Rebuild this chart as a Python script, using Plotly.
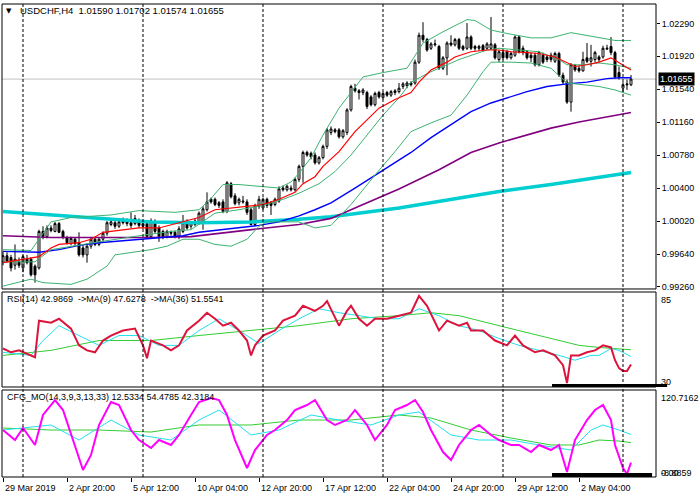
import plotly.graph_objects as go

# ---------------- price data (USDCHF H4), bar index 0 = 29 Mar 2019 ----------------
bar_open = [0.9955,0.9962,0.9960,0.9951,0.9955,0.9948,0.9958,0.9958,0.9950,0.9948,
0.9990,0.9984,0.9994,0.9990,0.9999,0.9990,0.9983,0.9976,0.9981,0.9977,
0.9971,0.9963,0.9973,0.9981,0.9975,0.9981,0.9988,0.9998,1.0000,0.9996,
1.0002,1.0001,1.0000,0.9999,1.0002,0.9999,0.9999,0.9984,1.0001,0.9994,
0.9990,0.9984,0.9989,0.9989,0.9984,0.9990,1.0001,0.9996,0.9998,1.0000,
1.0001,1.0015,1.0027,1.0027,1.0023,1.0024,1.0013,1.0045,1.0031,1.0023,
1.0025,1.0024,1.0015,0.9998,1.0019,1.0017,1.0027,1.0023,1.0021,1.0025,
1.0040,1.0038,1.0040,1.0038,1.0050,1.0065,1.0081,1.0080,1.0078,1.0069,
1.0075,1.0088,1.0104,1.0107,1.0107,1.0099,1.0104,1.0130,1.0155,1.0152,
1.0150,1.0150,1.0145,1.0136,1.0150,1.0144,1.0150,1.0147,1.0150,1.0151,
1.0157,1.0158,1.0161,1.0161,1.0185,1.0216,1.0211,1.0201,1.0205,1.0203,
1.0178,1.0190,1.0207,1.0205,1.0211,1.0203,1.0201,1.0214,1.0203,1.0201,
1.0204,1.0201,1.0201,1.0205,1.0188,1.0196,1.0197,1.0190,1.0193,1.0214,
1.0201,1.0197,1.0193,1.0193,1.0182,1.0193,1.0191,1.0193,1.0186,1.0195,
1.0170,1.0162,1.0139,1.0181,1.0178,1.0175,1.0190,1.0186,1.0188,1.0191,
1.0191,1.0200,1.0203,1.0196,1.0173,1.0155,1.0160,1.01590]
bar_high = [0.9967,0.9966,0.9963,0.9975,0.9960,0.9963,0.9963,0.9960,0.9952,0.9992,
0.9996,0.9997,0.9997,1.0001,1.0001,0.9992,0.9985,0.9984,0.9983,0.9989,
0.9974,0.9975,0.9983,0.9983,0.9983,0.9990,1.0002,1.0005,1.0004,1.0005,
1.0006,1.0005,1.0012,1.0009,1.0005,1.0001,1.0001,1.0005,1.0004,0.9997,
0.9992,0.9992,0.9991,0.9991,0.9996,1.0009,1.0004,1.0002,1.0005,1.0013,
1.0019,1.0035,1.0029,1.0029,1.0025,1.0027,1.0048,1.0047,1.0034,1.0029,
1.0031,1.0027,1.0017,1.0022,1.0031,1.0029,1.0029,1.0025,1.0029,1.0042,
1.0043,1.0044,1.0043,1.0052,1.0067,1.0083,1.0083,1.0082,1.0081,1.0077,
1.0090,1.0109,1.0111,1.0109,1.0109,1.0108,1.0132,1.0159,1.0160,1.0154,
1.0155,1.0152,1.0147,1.0151,1.0152,1.0151,1.0152,1.0153,1.0154,1.0161,
1.0162,1.0163,1.0163,1.0188,1.0219,1.0231,1.0213,1.0208,1.0211,1.0205,
1.0192,1.0209,1.0216,1.0213,1.0213,1.0205,1.0230,1.0216,1.0205,1.0205,
1.0206,1.0208,1.0237,1.0207,1.0199,1.0198,1.0199,1.0197,1.0216,1.0216,
1.0204,1.0199,1.0196,1.0196,1.0198,1.0196,1.0193,1.0196,1.0197,1.0197,
1.0173,1.0165,1.0184,1.0183,1.0181,1.0197,1.0207,1.0205,1.0198,1.0193,
1.0204,1.0205,1.0214,1.0198,1.0180,1.0162,1.0165,1.01702]
bar_low = [0.9951,0.9954,0.9944,0.9946,0.9948,0.9943,0.9952,0.9938,0.9931,0.9946,
0.9981,0.9982,0.9989,0.9989,0.9988,0.9981,0.9975,0.9974,0.9974,0.9961,
0.9960,0.9954,0.9970,0.9973,0.9973,0.9978,0.9985,0.9996,0.9993,0.9994,
0.9998,0.9996,0.9994,0.9997,0.9994,0.9993,0.9982,0.9982,0.9988,0.9978,
0.9981,0.9982,0.9985,0.9982,0.9981,0.9988,0.9992,0.9993,0.9996,0.9998,
0.9992,1.0013,1.0022,1.0019,1.0017,1.0011,1.0011,1.0028,1.0020,1.0020,
1.0022,1.0009,0.9997,0.9996,1.0016,1.0015,1.0017,1.0009,1.0019,1.0023,
1.0036,1.0036,1.0036,1.0036,1.0047,1.0046,1.0076,1.0073,1.0067,1.0067,
1.0073,1.0085,1.0101,1.0103,1.0097,1.0097,1.0101,1.0128,1.0150,1.0142,
1.0147,1.0131,1.0134,1.0134,1.0143,1.0142,1.0145,1.0145,1.0147,1.0149,
1.0154,1.0155,1.0157,1.0159,1.0183,1.0208,1.0197,1.0199,1.0203,1.0176,
1.0176,1.0170,1.0203,1.0203,1.0199,1.0198,1.0199,1.0199,1.0198,1.0198,
1.0197,1.0199,1.0199,1.0188,1.0185,1.0188,1.0188,1.0188,1.0191,1.0195,
1.0193,1.0188,1.0185,1.0180,1.0180,1.0183,1.0185,1.0185,1.0184,1.0168,
1.0160,1.0137,1.0128,1.0174,1.0173,1.0174,1.0184,1.0180,1.0185,1.0185,
1.0189,1.0199,1.0193,1.0166,1.0165,1.0150,1.0153,1.01574]
bar_close = [0.9962,0.9956,0.9948,0.9958,0.9951,0.9961,0.9954,0.9940,0.9940,0.9990,
0.9984,0.9994,0.9991,0.9999,0.9989,0.9983,0.9977,0.9982,0.9976,0.9963,
0.9963,0.9973,0.9981,0.9975,0.9981,0.9988,1.0000,1.0001,0.9996,1.0001,
1.0000,0.9999,0.9997,1.0005,0.9997,0.9996,0.9984,1.0002,0.9990,0.9984,
0.9983,0.9990,0.9988,0.9984,0.9993,1.0000,0.9994,1.0000,1.0002,1.0011,
1.0016,1.0024,1.0024,1.0021,1.0020,1.0013,1.0046,1.0030,1.0022,1.0027,
1.0024,1.0012,0.9998,1.0020,1.0027,1.0027,1.0020,1.0020,1.0027,1.0039,
1.0038,1.0042,1.0038,1.0050,1.0065,1.0081,1.0078,1.0076,1.0069,1.0075,
1.0088,1.0107,1.0108,1.0105,1.0099,1.0106,1.0130,1.0157,1.0152,1.0150,
1.0153,1.0134,1.0136,1.0149,1.0145,1.0149,1.0147,1.0151,1.0152,1.0155,
1.0160,1.0161,1.0159,1.0185,1.0216,1.0211,1.0199,1.0206,1.0206,1.0178,
1.0190,1.0207,1.0205,1.0211,1.0201,1.0200,1.0214,1.0201,1.0201,1.0203,
1.0199,1.0206,1.0206,1.0190,1.0197,1.0190,1.0190,1.0195,1.0214,1.0197,
1.0196,1.0190,1.0190,1.0182,1.0196,1.0185,1.0188,1.0188,1.0195,1.0170,
1.0162,1.0139,1.0182,1.0176,1.0175,1.0188,1.0186,1.0190,1.0196,1.0188,
1.0201,1.0201,1.0196,1.0168,1.0167,1.0159,1.0159,1.01655]

# ---------------- main-chart indicators (bar index, value) ----------------
ma_red_idx = [0,9,12,14,19,22,25,30,34,39,45,49,53,57,60,65,69,73,75,78,80,84,88,91,94,98,102,104,107,111,113,117,121,124,127,131,134,138,141,143,146,149,152,154,157]
ma_red = [0.9954,0.9961,0.9971,0.9975,0.9977,0.9981,0.9989,0.9992,0.9994,0.9994,1.0001,1.0006,1.0015,1.0017,1.0019,1.0021,1.0027,1.0035,1.0045,1.0053,1.0065,1.0082,1.0105,1.0119,1.0132,1.0142,1.0150,1.0162,1.0176,1.0185,1.0191,1.0197,1.0199,1.0199,1.0197,1.0196,1.0195,1.0191,1.0184,1.0180,1.0182,1.0185,1.0190,1.0184,1.0176]

ma_blue_idx = [0,9,14,19,24,32,39,45,49,57,64,69,74,78,82,88,94,102,107,112,117,122,127,131,136,141,146,151,154,157]
ma_blue = [0.9967,0.9966,0.9969,0.9974,0.9977,0.9980,0.9982,0.9985,0.9989,0.9993,0.9997,1.0001,1.0008,1.0015,1.0023,1.0040,1.0058,1.0081,1.0098,1.0113,1.0128,1.0138,1.0145,1.0151,1.0157,1.0160,1.0162,1.0166,1.0167,1.0167]

ma_purple_idx = [0,12,24,37,47,54,64,74,82,89,99,109,117,124,131,137,144,151,157]
ma_purple = [0.9985,0.9983,0.9983,0.9983,0.9984,0.9988,0.9993,0.9998,1.0005,1.0019,1.0039,1.0061,1.0081,1.0092,1.0101,1.0109,1.0116,1.0122,1.0127]

ma_cyan_idx = [0,12,24,37,49,62,74,82,99,112,124,137,149,157]
ma_cyan = [1.0013,1.0009,1.0006,1.0001,1.0000,1.0001,1.0004,1.0007,1.0017,1.0027,1.0036,1.0044,1.0052,1.0058]

bb_up_idx = [0,7,9,12,17,27,34,43,49,52,55,59,64,69,72,74,77,80,84,90,95,101,105,110,116,118,122,126,132,137,142,146,149,153,157]
bb_up = [0.9969,0.9968,0.9981,1.0001,1.0006,1.0009,1.0014,1.0012,1.0015,1.0028,1.0044,1.0044,1.0042,1.0040,1.0047,1.0057,1.0075,1.0101,1.0132,1.0168,1.0173,1.0178,1.0207,1.0220,1.0234,1.0233,1.0222,1.0218,1.0213,1.0213,1.0219,1.0216,1.0213,1.0210,1.0210]

bb_mid_idx = [0,8,12,17,24,34,42,47,50,53,59,65,70,74,79,83,87,91,95,99,102,107,114,121,124,129,134,139,141,145,149,153,157]
bb_mid = [0.9955,0.9955,0.9969,0.9973,0.9978,0.9985,0.9990,0.9992,1.0001,1.0011,1.0015,1.0020,1.0027,1.0034,1.0045,1.0059,1.0078,1.0101,1.0124,1.0144,1.0162,1.0174,1.0188,1.0199,1.0201,1.0199,1.0197,1.0188,1.0182,1.0182,1.0184,1.0182,1.0178]

bb_low_idx = [0,7,10,17,21,26,28,32,37,41,45,49,53,57,61,64,66,74,78,82,87,93,98,102,107,112,116,120,122,127,132,137,141,145,149,153,157]
bb_low = [0.9927,0.9935,0.9931,0.9929,0.9935,0.9950,0.9963,0.9966,0.9969,0.9973,0.9981,0.9981,0.9975,0.9973,0.9981,0.9996,1.0001,1.0001,0.9994,0.9997,1.0021,1.0055,1.0082,1.0105,1.0115,1.0124,1.0147,1.0174,1.0185,1.0185,1.0184,1.0178,1.0161,1.0159,1.0157,1.0153,1.0147]

# ---------------- RSI(14) panel ----------------
rsi_idx = [0,2,4,7,8,9,12,14,17,19,21,23,25,27,30,33,35,36,37,40,42,44,46,49,51,53,55,57,59,61,62,63,65,68,70,73,75,78,80,81,84,86,87,89,91,93,96,99,102,104,105,106,109,111,114,116,117,120,123,126,128,130,133,135,138,139,140,141,142,144,146,148,150,152,153,154,155,156,157]
rsi = [52.3,50.1,51.2,48.3,47.2,68.4,67.2,69.5,63.8,54.1,51.2,50.1,56.9,59.8,62.7,63.8,54.1,46.6,56.9,54.1,51.2,54.1,62.7,68.4,73.0,69.5,65.5,67.2,62.7,56.9,48.3,54.1,59.8,62.7,68.4,71.3,77.0,74.1,77.0,79.8,65.5,74.1,77.0,69.5,65.5,69.5,69.5,71.3,73.0,82.7,79.8,77.0,62.7,68.4,65.5,67.2,62.7,62.7,56.9,54.1,59.8,54.1,50.1,51.2,48.3,45.5,42.6,32.3,48.3,48.3,50.1,51.2,54.1,52.9,45.5,40.9,39.2,39.2,42.99]
rsi_ma9_idx = [0,7,10,14,19,24,29,34,39,44,49,54,59,64,69,74,79,84,89,94,99,104,109,114,119,124,129,134,139,143,147,149,152,154,157]
rsi_ma9 = [50.1,48.3,56.9,65.5,59.8,54.1,59.8,59.8,54.1,54.1,62.7,69.5,62.7,55.2,62.7,69.5,75.3,73.0,71.3,69.5,69.5,75.3,71.3,65.5,62.7,58.1,54.1,51.2,48.3,45.5,48.3,48.3,52.3,51.2,47.63]
rsi_ma36_idx = [0,12,24,37,49,62,74,87,99,107,114,124,134,144,149,154,157]
rsi_ma36 = [48.3,51.2,56.9,56.9,59.8,62.7,65.5,69.5,71.3,73.0,71.3,65.5,59.8,54.1,52.9,52.3,51.55]

# ---------------- CFG_MO panel ----------------
cfg_idx = [0,3,5,8,10,13,15,18,20,22,24,27,29,32,34,37,39,42,44,47,49,52,54,56,58,61,63,66,68,71,73,76,78,81,83,86,88,91,93,96,98,101,103,105,107,110,112,114,117,119,122,124,127,129,132,134,137,139,141,143,146,148,150,152,153,155,156,157]
cfg_main = [61.1,46.2,64.1,38.8,83.5,105.8,90.9,38.8,1.5,23.9,68.6,102.8,98.4,61.1,46.2,34.3,46.2,38.8,53.7,83.5,102.8,108.8,105.8,83.5,46.2,4.5,31.3,53.7,61.1,76.0,90.9,98.4,105.8,76.0,68.6,76.0,90.9,68.6,46.2,68.6,90.9,98.4,105.8,88.0,61.1,28.3,16.4,38.8,61.1,68.6,53.7,46.2,38.8,38.8,28.3,38.8,31.3,38.8,-1.4,46.2,76.0,90.9,98.4,76.0,38.8,4.5,-4.4,12.53]
cfg_sig1_idx = [0,12,19,27,34,42,49,54,62,69,77,84,92,99,104,112,119,127,134,142,147,150,154,157]
cfg_sig1 = [61.1,68.6,46.2,76.0,53.7,46.2,76.0,90.9,53.7,61.1,83.5,76.0,68.6,83.5,88.0,53.7,46.2,46.2,38.8,31.3,61.1,68.6,61.1,54.48]
cfg_sig2_idx = [0,12,24,37,49,62,74,87,99,107,117,127,137,144,149,154,157]
cfg_sig2 = [64.1,61.1,61.1,58.1,68.6,68.6,76.0,76.0,83.5,79.0,61.1,49.2,38.8,38.8,46.2,44.7,42.32]

# ---------------- axis labels ----------------
time_tick_idx = [0,16,32,48,64,80,96,112,128,144]
time_tick_txt = ["29 Mar 2019","2 Apr 20:00","5 Apr 12:00","10 Apr 04:00","12 Apr 20:00",
                 "17 Apr 12:00","22 Apr 04:00","24 Apr 20:00","29 Apr 12:00","2 May 04:00"]
price_ticks = [0.99260,0.99640,1.00020,1.00400,1.00780,1.01160,1.01540,1.01920,1.02290]
grid_idx = [5,35,65,95,125,155]
last_price = 1.01655

FONT = "Liberation Sans"
FS = 9
fig = go.Figure()

def add_line(xs, ys, color, width, yaxis="y"):
    fig.add_trace(go.Scatter(x=xs, y=ys, mode="lines", yaxis=yaxis,
                             line=dict(color=color, width=width),
                             hoverinfo="skip", showlegend=False))

# main indicators (drawn under the candles)
add_line(ma_cyan_idx, ma_cyan, "#00CED1", 3.5)
add_line(ma_purple_idx, ma_purple, "#800080", 1.6)
add_line(ma_blue_idx, ma_blue, "#0000FF", 1.4)
add_line(bb_up_idx, bb_up, "#3CB371", 1)
add_line(bb_mid_idx, bb_mid, "#3CB371", 1)
add_line(bb_low_idx, bb_low, "#3CB371", 1)
add_line(ma_red_idx, ma_red, "#FF0000", 1.2)

fig.add_trace(go.Candlestick(
    x=list(range(len(bar_close))), open=bar_open, high=bar_high, low=bar_low, close=bar_close,
    increasing=dict(line=dict(color="black", width=1), fillcolor="white"),
    decreasing=dict(line=dict(color="black", width=1), fillcolor="black"),
    whiskerwidth=0, showlegend=False, hoverinfo="skip", yaxis="y"))

# RSI panel
add_line(rsi_ma36_idx, rsi_ma36, "#32CD32", 1, "y2")
add_line(rsi_ma9_idx, rsi_ma9, "#22E0EE", 1, "y2")
add_line(rsi_idx, rsi, "#DC143C", 2, "y2")

# CFG_MO panel
add_line(cfg_sig2_idx, cfg_sig2, "#32CD32", 1, "y3")
add_line(cfg_sig1_idx, cfg_sig1, "#22E0EE", 1, "y3")
add_line(cfg_idx, cfg_main, "#FF00FF", 2, "y3")

main_dom = [0.3975, 1.0]
rsi_dom = [0.1903, 0.3911]
cfg_dom = [0.0, 0.1839]

shapes = []
for g in grid_idx:
    shapes.append(dict(type="line", xref="x", yref="paper", x0=g, x1=g, y0=0, y1=1,
                       line=dict(color="black", width=1, dash="3px,2px"), layer="above"))
shapes.append(dict(type="line", xref="paper", yref="y", x0=0, x1=1, y0=last_price, y1=last_price,
                   line=dict(color="#C0C0C0", width=1), layer="below"))
for d in (main_dom, rsi_dom, cfg_dom):
    shapes.append(dict(type="rect", xref="paper", yref="paper", x0=0, x1=1, y0=d[0], y1=d[1],
                       line=dict(color="black", width=1), fillcolor="rgba(0,0,0,0)", layer="above"))
# thick black segments at bottom of the sub-windows
shapes.append(dict(type="rect", xref="paper", yref="paper", x0=0.841, x1=1.017, y0=0.1903, y1=0.1966,
                   line=dict(width=0), fillcolor="black", layer="above"))
shapes.append(dict(type="rect", xref="paper", yref="paper", x0=0.841, x1=0.994, y0=0.0, y1=0.0085,
                   line=dict(width=0), fillcolor="black", layer="above"))

fnt = dict(family=FONT, size=FS, color="black")
ann = []
for i, t in zip(time_tick_idx, time_tick_txt):
    ann.append(dict(x=i, y=0, xref="x", yref="paper", text=t, showarrow=False,
                    xanchor="left", yanchor="top", yshift=-4, font=fnt))
ann.append(dict(x=0, y=0.9855, xref="paper", yref="paper", text="▼", showarrow=False,
                xanchor="left", yanchor="middle", xshift=2,
                font=dict(family="DejaVu Sans", size=7, color="black")))
ann.append(dict(x=0, y=0.9855, xref="paper", yref="paper",
                text="USDCHF,H4  1.01590 1.01702 1.01574 1.01655", showarrow=False,
                xanchor="left", yanchor="middle", xshift=16,
                font=dict(family=FONT, size=9.5, color="black")))
ann.append(dict(x=0, y=0.3763, xref="paper", yref="paper",
                text="RSI(14) 42.9869  ->MA(9) 47.6278  ->MA(36) 51.5541", showarrow=False,
                xanchor="left", yanchor="middle", xshift=3, font=fnt))
ann.append(dict(x=0, y=0.1691, xref="paper", yref="paper",
                text="CFG_MO(14,3,9,3,13,33) 12.5334 54.4785 42.3184", showarrow=False,
                xanchor="left", yanchor="middle", xshift=3, font=fnt))
for txt, yy in (("85", 0.3742), ("30", 0.2008), ("120.7162", 0.1670), ("-8.8859", 0.0085), ("0.00", 0.0085)):
    ann.append(dict(x=1, y=yy, xref="paper", yref="paper", text=txt, showarrow=False,
                    xanchor="left", yanchor="middle", xshift=3, font=fnt))
ann.append(dict(x=1, y=last_price, xref="paper", yref="y", text="1.01655", showarrow=False,
                xanchor="left", yanchor="middle", xshift=2, bgcolor="black", borderpad=1,
                font=dict(family=FONT, size=FS, color="white")))

fig.update_layout(
    width=700, height=500, autosize=False,
    margin=dict(l=2, r=44, t=4, b=23),
    paper_bgcolor="white", plot_bgcolor="white",
    showlegend=False, hovermode=False, dragmode=False,
    xaxis=dict(domain=[0, 1], range=[-0.25, 163.25], anchor="y3",
               tickvals=time_tick_idx, ticks="outside", ticklen=4, tickcolor="black",
               showticklabels=False, showgrid=False, zeroline=False, showline=False,
               rangeslider=dict(visible=False)),
    yaxis=dict(domain=main_dom, range=[0.99237, 1.02520], side="right", anchor="x",
               tickvals=price_ticks, ticktext=["%.5f" % v for v in price_ticks],
               ticks="outside", ticklen=3, tickcolor="black", tickfont=fnt,
               showgrid=False, zeroline=False, showline=False),
    yaxis2=dict(domain=rsi_dom, range=[30, 85], side="right", anchor="x",
                showticklabels=False, ticks="", showgrid=False, zeroline=False, showline=False),
    yaxis3=dict(domain=cfg_dom, range=[-8.8859, 120.7162], side="right", anchor="x",
                showticklabels=False, ticks="", showgrid=False, zeroline=False, showline=False),
    shapes=shapes, annotations=ann,
)

fig.write_html("out.html", config={"displayModeBar": False, "staticPlot": True},
               post_script="document.body.style.margin='0';")
